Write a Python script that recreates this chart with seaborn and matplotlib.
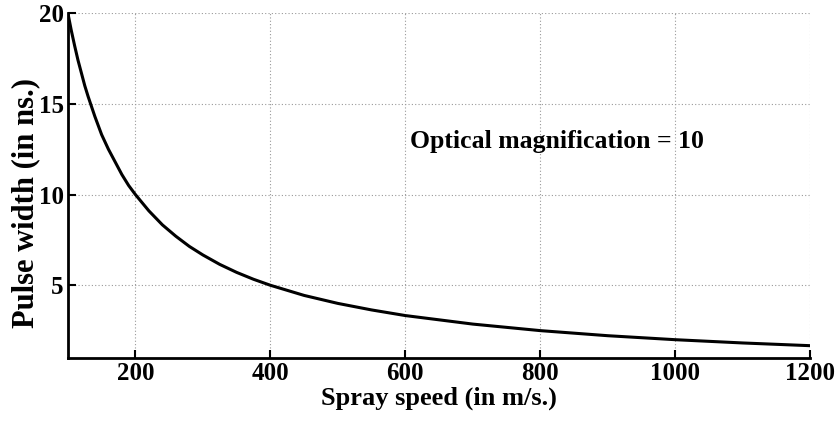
""" Pulse width vs spray speed """

import matplotlib
matplotlib.use("Agg")
import matplotlib.pyplot as plt
import seaborn as sns
import pandas as pd

# values
speed = [100, 105, 110, 115, 120, 125, 130, 140, 150, 160, 170, 180, 190, 200,
         220, 240, 260, 280, 300, 325, 350, 375, 400, 450, 500, 550, 600, 700,
         800, 900, 1000, 1100, 1200]
pulse_width = [20.0, 19.05, 18.2, 17.4, 16.7, 16.0, 15.4, 14.3, 13.3, 12.5, 11.8,
               11.1, 10.5, 10.0, 9.1, 8.33, 7.7, 7.14, 6.67, 6.15, 5.71, 5.33,
               5.0, 4.44, 4.0, 3.64, 3.33, 2.86, 2.5, 2.22, 2.0, 1.82, 1.67]
x_ticks = [200, 400, 600, 800, 1000, 1200]
y_ticks = [5, 10, 15, 20]
note = "Optical magnification = 10"

df = pd.DataFrame({"speed": speed, "width": pulse_width})

sns.set_style("white")
plt.rcParams['font.family'] = ['Liberation Serif', 'DejaVu Serif']
plt.rcParams['font.weight'] = 'bold'
for key in ['text.color', 'axes.labelcolor', 'xtick.color', 'ytick.color']:
    plt.rcParams[key] = 'black'

fig = plt.figure(figsize=(8.38, 4.21), dpi=100)
ax = fig.add_axes([0.081, 0.150, 0.886, 0.819])

sns.lineplot(data=df, x="speed", y="width", ax=ax, color="black", linewidth=2.2)

ax.set_xlim(100, 1200)
ax.set_ylim(1, 20)
ax.set_xticks(x_ticks)
ax.set_yticks(y_ticks)
ax.grid(True, linestyle=(0, (1, 2)), color="#999999", linewidth=0.8)
ax.tick_params(direction="in", length=6, width=1.5, labelsize=18, pad=3,
               left=True, bottom=True, colors="black")
for lbl in ax.get_xticklabels() + ax.get_yticklabels():
    lbl.set_fontweight("bold")

ax.spines['top'].set_visible(False)
ax.spines['right'].set_visible(False)
for s in ['left', 'bottom']:
    ax.spines[s].set_linewidth(2)
    ax.spines[s].set_color("black")

ax.set_xlabel("Spray speed (in m/s.)", fontsize=19, fontweight="bold", labelpad=1)
ax.set_ylabel("Pulse width (in ns.)", fontsize=22, fontweight="bold", labelpad=-1)
ax.yaxis.label.set_y(0.449)

ax.text(607, 12.9, note, fontsize=18.5, fontweight="bold", ha="left", va="center")

fig.savefig("out.png", dpi=100)
